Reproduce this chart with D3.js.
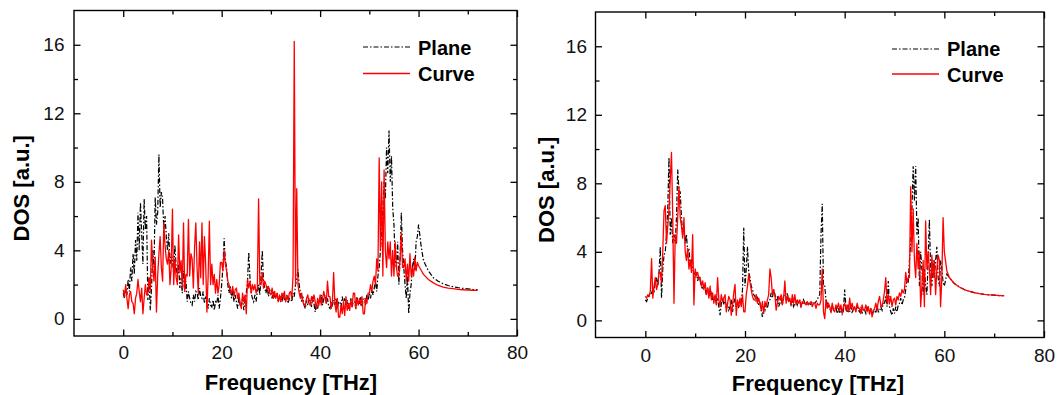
<!DOCTYPE html>
<html><head><meta charset="utf-8">
<script src="https://cdn.jsdelivr.net/npm/d3@7"></script>
<style>body{margin:0;background:#fff}svg{display:block}</style>
</head><body><svg id="c" width="1062" height="395"></svg>
<script>
// sampling grid 0..60 THz every 0.25 THz, then sparse tail to 72 THz
const gridFreq = d3.range(0, 241).map(i => i * 0.25);
const tailFreq = [60.5, 61, 62, 63, 64, 65, 66, 67, 68, 69, 70, 71, 72];

const xMajor = [0, 20, 40, 60, 80];
const xMinor = [10, 30, 50, 70];
const yMajor = [0, 4, 8, 12, 16];
const yMinor = [2, 6, 10, 14];
const seriesNames = ["Plane", "Curve"];

// ---- left panel ----
const leftPlane = [
1.5,1.2,1.8,1.4, 2.3,1.6,3.0,2.2, 3.8,2.6,4.6,3.4, 6.2,4.0,6.8,5.0, 3.2,7.0,5.2,6.0,
1.1,2.4,0.5,1.8, 4.0,3.0,7.1,5.5, 6.2,9.6,6.5,7.4, 7.0,5.2,6.0,4.8, 4.0,5.0,3.2,3.8,
3.5,2.6,4.3,3.0, 2.5,3.2,1.8,2.4, 1.5,2.8,1.6,2.2, 1.0,1.6,1.2,0.9, 0.8,1.4,1.0,1.6,
1.5,1.1,1.8,1.3, 1.2,1.6,0.9,1.3, 1.0,0.6,1.2,0.8, 0.7,1.1,0.5,1.0, 0.9,1.4,0.6,1.2,
2.0,3.0,4.7,3.4, 3.0,2.0,1.5,1.9, 1.2,1.6,1.0,1.4, 1.0,0.6,1.3,0.8, 0.8,1.2,0.5,1.1,
1.5,2.2,3.9,2.4, 1.5,1.2,1.0,1.4, 1.0,1.6,2.0,1.4, 2.5,4.0,2.2,1.8, 1.5,1.9,1.3,1.7,
1.5,1.2,1.6,1.3, 1.2,1.5,1.0,1.3, 1.3,1.0,1.5,1.1, 1.1,1.4,0.9,1.2, 1.2,1.0,1.5,1.3,
2.0,2.3,2.9,2.0, 1.5,1.0,1.3,0.8, 0.6,1.1,0.8,1.2, 1.0,0.7,1.3,0.9, 0.4,0.9,0.6,1.1,
1.0,1.4,0.8,1.2, 1.4,0.9,1.2,0.7, 0.6,1.0,0.8,1.1, 0.8,1.2,0.6,1.0, 1.0,0.7,1.3,0.9,
1.2,0.8,1.1,0.6, 0.8,1.2,0.7,1.0, 1.0,0.6,1.3,0.9, 0.9,1.3,0.7,1.1, 1.2,0.8,1.4,1.1,
1.5,1.2,1.7,1.4, 1.8,2.2,1.6,2.5, 3.0,4.0,5.0,6.5, 8.0,7.0,10.0,8.5, 11.0,8.0,9.5,6.5,
5.5,3.5,3.0,4.5, 2.0,3.5,6.2,4.0, 3.0,2.0,1.2,2.5, 0.3,1.5,2.0,3.0, 3.5,2.8,4.5,4.8,
5.5];
const leftPlaneTail = [4.3, 3.4, 2.8, 2.4, 2.2, 2.05, 1.95, 1.88, 1.82, 1.78, 1.75, 1.72, 1.7];

const leftCurve = [
1.7,1.3,2.0,1.2, 0.6,1.4,1.6,1.0, 0.9,0.3,1.2,1.5, 2.3,1.6,1.0,1.8, 0.3,1.2,2.0,1.4,
1.5,2.4,1.6,4.6, 3.0,2.2,3.6,0.4, 2.5,3.8,4.8,3.0, 2.2,5.6,4.3,3.5, 3.2,4.0,2.0,3.0,
6.4,2.0,3.5,2.4, 2.0,4.9,2.7,3.4, 1.8,5.6,1.6,2.6, 2.5,5.8,2.5,3.8, 3.5,1.8,4.2,5.6,
3.0,1.5,4.5,2.4, 5.6,2.0,4.8,3.2, 0.4,2.5,5.7,2.0, 3.2,2.0,2.6,1.5, 2.3,1.5,2.0,3.3,
3.3,2.8,4.0,3.2, 2.8,2.2,2.0,1.6, 1.5,1.9,1.3,1.7, 1.8,1.2,1.5,0.9, 0.6,1.5,1.0,1.4,
0.3,2.3,1.8,2.2, 1.5,2.0,1.7,2.0, 1.5,1.8,7.0,2.0, 2.0,2.7,1.8,2.2, 2.0,1.7,1.9,1.5,
1.4,1.8,1.2,1.6, 1.2,1.5,1.0,1.4, 1.0,1.5,1.2,1.6, 1.0,1.3,1.1,1.5, 1.6,1.2,2.5,16.2,
2.0,7.6,2.0,1.5, 1.2,1.5,1.0,0.8, 0.8,1.2,1.4,0.9, 0.8,1.3,1.0,1.4, 1.0,0.6,1.2,0.8,
1.4,0.8,1.2,1.6, 1.2,0.9,2.2,1.3, 1.3,0.6,1.0,2.7, 0.9,0.4,1.2,0.1, 0.1,0.8,0.3,1.0,
0.2,1.3,0.5,0.9, 0.5,1.1,0.7,1.5, 1.5,0.6,1.2,0.8, 1.2,0.8,1.3,0.3, 0.3,1.2,0.9,1.5,
1.5,2.0,1.6,2.2, 2.5,2.0,3.5,2.8, 9.4,4.0,8.0,2.5, 8.7,4.0,3.0,4.5, 3.5,4.5,2.5,4.0,
2.5,4.5,3.0,2.5, 2.5,3.5,5.0,3.0, 3.0,3.5,2.2,3.2, 2.2,3.8,2.5,3.0, 2.5,3.6,2.8,3.3,
3.1];
const leftCurveTail = [2.85, 2.6, 2.3, 2.1, 1.95, 1.85, 1.8, 1.76, 1.72, 1.7, 1.68, 1.67, 1.66];

// ---- right panel ----
const rightPlane = [
1.2,1.1,1.3,1.4, 1.5,1.6,1.8,1.7, 2.2,2.5,2.0,2.8, 4.3,1.3,3.0,3.8, 4.0,5.0,6.5,9.5,
5.0,6.0,4.5,5.0, 4.5,6.0,8.8,7.5, 7.5,6.0,5.0,5.5, 4.5,5.0,4.0,4.2, 3.2,3.6,3.0,2.8,
2.5,2.8,2.3,2.6, 2.3,2.0,1.8,2.1, 1.8,1.5,1.9,1.4, 1.5,1.7,1.2,1.4, 1.3,1.0,1.2,0.8,
0.3,1.0,1.3,0.9, 1.2,0.7,1.0,0.6, 0.8,1.2,0.5,1.0, 1.3,0.8,1.1,0.7, 1.2,0.9,1.8,5.4,
2.0,3.0,4.3,2.8, 2.5,2.0,1.8,1.5, 1.4,1.1,1.3,0.9, 1.0,0.6,0.2,0.8, 0.6,1.0,0.7,1.1,
1.2,1.6,1.3,1.8, 1.5,1.2,1.4,0.8, 1.0,1.3,0.9,1.5, 1.5,1.2,1.6,1.1, 1.2,0.9,1.1,0.8,
1.0,1.2,0.9,1.1, 1.1,0.8,1.0,1.2, 1.0,1.1,0.9,1.0, 1.0,0.9,1.1,1.0, 1.0,1.1,1.2,1.4,
1.5,5.0,6.8,2.0, 2.0,1.2,1.0,0.8, 0.7,0.5,0.9,0.6, 0.6,0.8,0.4,0.7, 0.4,0.7,0.3,0.6,
1.8,0.8,0.5,0.9, 0.5,0.8,0.4,0.7, 0.7,0.5,0.9,0.6, 0.5,0.8,0.4,0.7, 0.6,0.4,0.8,0.5,
0.4,0.7,0.3,0.6, 0.6,0.4,0.9,0.5, 0.5,0.8,0.6,1.0, 1.0,1.4,0.8,2.3, 0.8,0.5,0.3,0.7,
0.4,0.8,0.5,0.9, 1.0,1.3,0.9,1.2, 1.3,1.8,2.5,2.2, 3.5,4.5,6.5,9.0, 7.0,9.0,5.0,6.0,
2.0,4.0,3.0,1.5, 3.0,2.0,1.5,3.5, 5.9,3.0,2.0,3.5, 2.5,3.5,4.3,2.5, 2.0,3.5,3.0,2.2,
2.0];
const rightPlaneTail = [2.7, 2.5, 2.15, 1.95, 1.8, 1.7, 1.62, 1.56, 1.52, 1.49, 1.47, 1.45, 1.44];

const rightCurve = [
1.4,1.3,1.5,1.4, 1.7,3.6,1.3,2.0, 2.5,1.8,2.1,2.8, 2.8,2.2,4.0,6.4, 6.7,4.5,5.5,6.5,
8.2,9.8,6.0,1.0, 5.0,4.5,6.0,7.8, 6.0,5.5,4.8,6.0, 4.0,3.5,4.2,3.0, 3.5,2.8,5.0,0.9,
3.0,2.6,2.8,2.4, 2.5,2.0,2.3,1.8, 2.2,1.5,1.9,1.3, 2.0,1.2,1.6,1.0, 1.5,0.9,2.5,1.2,
0.8,1.5,1.1,1.3, 1.5,0.5,1.0,1.4, 1.2,0.3,0.9,1.6, 2.1,0.3,1.2,0.8, 1.3,0.8,1.5,0.5,
0.5,1.5,2.0,2.7, 2.2,1.8,1.4,1.2, 1.2,1.5,1.0,1.3, 1.0,0.6,1.1,0.4, 1.1,0.8,1.2,1.5,
3.0,2.5,1.5,1.8, 1.5,0.6,1.0,1.4, 1.2,1.5,0.9,1.3, 2.3,1.0,1.4,1.1, 1.3,0.9,1.5,1.0,
1.5,0.9,1.2,1.0, 1.2,0.8,1.1,1.0, 1.0,0.9,1.1,0.9, 1.0,1.1,0.8,1.0, 1.0,0.7,1.0,0.9,
0.9,1.2,3.0,0.5, 0.1,1.2,0.7,1.0, 0.8,0.5,1.0,0.6, 0.5,0.9,0.7,1.0, 0.6,0.9,0.4,0.8,
1.0,0.6,0.9,0.5, 1.3,0.7,1.0,0.6, 0.8,0.5,1.0,0.7, 0.7,0.4,0.9,0.6, 0.6,0.9,0.5,0.8,
0.4,0.7,0.2,0.5, 0.7,1.0,0.6,1.1, 1.4,0.9,0.8,1.2, 1.7,2.5,1.0,1.5, 1.0,1.4,0.8,1.2,
1.3,0.9,1.4,1.2, 1.6,1.4,1.8,1.6, 1.8,2.8,2.2,2.5, 2.5,7.8,4.0,6.5, 3.5,2.5,4.5,3.0,
4.0,0.8,2.0,3.5, 0.8,5.8,3.0,4.0, 3.0,1.5,3.8,2.5, 3.5,1.5,3.0,3.8, 3.5,0.8,2.5,6.0,
4.0];
const rightCurveTail = [2.9, 2.5, 2.15, 1.95, 1.8, 1.7, 1.62, 1.56, 1.52, 1.49, 1.47, 1.45, 1.44];

const panels = [
  { plane: leftPlane, planeTail: leftPlaneTail, curve: leftCurve, curveTail: leftCurveTail,
    x0: 74, x1: 517, yBottom: 336, yTop: 10.5,
    xPad: 9.5, yPad: 9.5, yTitleX: 29, xTitleX: 291, xTitleY: 390,
    legX: 363, legTextX: 418, legY: [47, 73.5], legBase: [55, 80.5] },
  { plane: rightPlane, planeTail: rightPlaneTail, curve: rightCurve, curveTail: rightCurveTail,
    x0: 595.5, x1: 1044, yBottom: 337.5, yTop: 12,
    xPad: 11.5, yPad: 8.5, yTitleX: 554, xTitleX: 818, xTitleY: 390.5,
    legX: 892, legTextX: 947, legY: [49, 74], legBase: [56, 81.5] }
];

const svg = d3.select("#c");
const FONT = "'Liberation Sans', Arial, sans-serif";

panels.forEach(p => {
  const x = d3.scaleLinear().domain([-10, 80]).range([p.x0, p.x1]);
  const y = d3.scaleLinear().domain([-1, 18]).range([p.yBottom, p.yTop]);
  const g = svg.append("g");

  const line = d3.line().x(d => x(d[0])).y(d => y(d[1]));
  const planePts = gridFreq.map((f, i) => [f, p.plane[i]]).concat(tailFreq.map((f, i) => [f, p.planeTail[i]]));
  const curvePts = gridFreq.map((f, i) => [f, p.curve[i]]).concat(tailFreq.map((f, i) => [f, p.curveTail[i]]));

  g.append("path").attr("d", line(planePts)).attr("fill", "none")
    .attr("stroke", "#000").attr("stroke-width", 1.2).attr("stroke-dasharray", "5,2,1.5,2");
  g.append("path").attr("d", line(curvePts)).attr("fill", "none")
    .attr("stroke", "#ff0000").attr("stroke-width", 1.3).attr("stroke-linejoin", "round");

  // axes
  const addAxis = (gen, tr, vals, size, pad, labels) => {
    const a = g.append("g").attr("transform", tr)
      .call(gen.tickValues(vals).tickSize(size).tickPadding(pad).tickFormat(labels ? d3.format("d") : ""));
    a.select(".domain").remove();
    a.selectAll("line").attr("stroke", "#000").attr("stroke-width", 1.3);
    a.selectAll("text").attr("font-family", FONT).attr("font-size", 19).attr("fill", "#111");
    return a;
  };
  addAxis(d3.axisBottom(x), `translate(0,${p.yBottom})`, xMajor, -6.5, p.xPad, true);
  addAxis(d3.axisBottom(x), `translate(0,${p.yBottom})`, xMinor, -4, 0, false);
  addAxis(d3.axisTop(x), `translate(0,${p.yTop})`, xMajor, -6.5, 0, false);
  addAxis(d3.axisTop(x), `translate(0,${p.yTop})`, xMinor, -4, 0, false);
  addAxis(d3.axisLeft(y), `translate(${p.x0},0)`, yMajor, -6.5, p.yPad, true);
  addAxis(d3.axisLeft(y), `translate(${p.x0},0)`, yMinor, -4, 0, false);
  addAxis(d3.axisRight(y), `translate(${p.x1},0)`, yMajor, -6.5, 0, false);
  addAxis(d3.axisRight(y), `translate(${p.x1},0)`, yMinor, -4, 0, false);

  g.append("rect").attr("x", p.x0).attr("y", p.yTop)
    .attr("width", p.x1 - p.x0).attr("height", p.yBottom - p.yTop)
    .attr("fill", "none").attr("stroke", "#000").attr("stroke-width", 1.4);

  // titles
  g.append("text").attr("x", p.xTitleX).attr("y", p.xTitleY).attr("text-anchor", "middle")
    .attr("font-family", FONT).attr("font-weight", "bold").attr("font-size", 22).text("Frequency [THz]");
  g.append("text").attr("transform", `translate(${p.yTitleX},${(p.yTop + p.yBottom) / 2 + 15}) rotate(-90)`)
    .attr("text-anchor", "middle")
    .attr("font-family", FONT).attr("font-weight", "bold").attr("font-size", 22).text("DOS [a.u.]");

  // legend
  seriesNames.forEach((name, i) => {
    g.append("line").attr("x1", p.legX).attr("x2", p.legX + 47)
      .attr("y1", p.legY[i]).attr("y2", p.legY[i])
      .attr("stroke", i === 0 ? "#000" : "#ff0000")
      .attr("stroke-width", i === 0 ? 1.2 : 1.3)
      .attr("stroke-dasharray", i === 0 ? "5,2,1.5,2" : null);
    g.append("text").attr("x", p.legTextX).attr("y", p.legBase[i])
      .attr("font-family", FONT).attr("font-weight", "bold").attr("font-size", 20).text(name);
  });
});
</script></body></html>
